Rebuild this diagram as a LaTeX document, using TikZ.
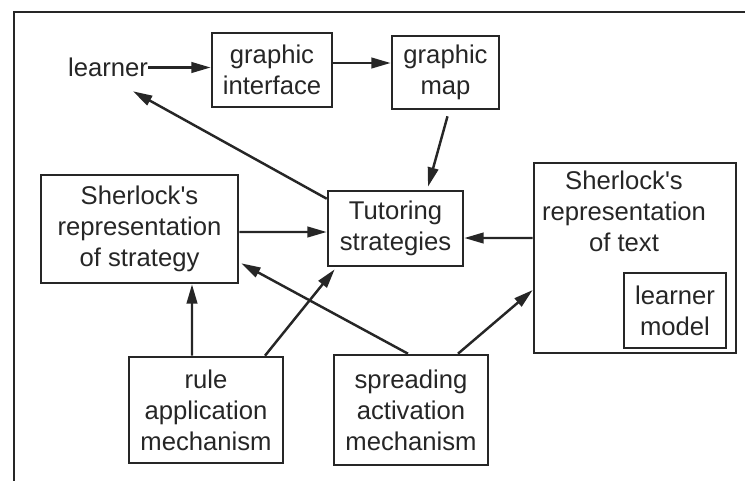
\documentclass[tikz,border=0pt]{standalone}
\usepackage{fontspec}
\setmainfont{Liberation Sans}
\usetikzlibrary{arrows.meta,calc}

\begin{document}
\begin{tikzpicture}[x=0.02cm,y=-0.02cm,
  every node/.style={font=\fontsize{14.6}{17.6}\selectfont, text=black!85},
  box/.style={draw=black!85, line width=1.5pt, align=center, inner sep=0pt},
  arr/.style={-{Triangle[length=11pt,width=6pt]}, line width=1.4pt, draw=black!85}]
  % page size (y grows downwards)
  \useasboundingbox (0,0) rectangle (745,481);
  % frame: top and left rule only
  \draw[line width=1.5pt, black!85] (745,12) -- (14,12) -- (14,481);

  % top row
  \node[inner sep=0pt] (learner) at (108,67.5) {learner};
  \node[box, minimum width=2.4cm, minimum height=1.48cm] (gi) at (272,70) {graphic\\interface};
  \node[box, minimum width=2.14cm, minimum height=1.46cm] (gm) at (445.5,72.5) {graphic\\map};

  % middle row
  \node[box, minimum width=3.94cm, minimum height=2.16cm] (strat) at (139.5,229)
    {Sherlock\textquotesingle s\\representation\\of strategy};
  \node[box, minimum width=2.7cm, minimum height=1.5cm] (tut) at (395.5,228.5)
    {Tutoring\\strategies};
  \node[box, minimum width=4.04cm, minimum height=3.8cm] (txt) at (635,258) {};
  \node[anchor=north, align=center, inner sep=0pt] (txtlabel) at (624,171)
    {Sherlock\textquotesingle s\\representation\\of text};
  \node[box, minimum width=2.04cm, minimum height=1.5cm] (lm) at (675,310.5) {learner\\model};

  % bottom row
  \node[box, minimum width=3.08cm, minimum height=2.12cm] (rule) at (206,410)
    {rule\\application\\mechanism};
  \node[box, minimum width=3.08cm, minimum height=2.2cm] (spread) at (411,410)
    {spreading\\activation\\mechanism};

  % connectors
  \draw[arr] (learner.east) -- (learner.east -| gi.west);
  \draw[arr] ($(gi.east)+(0,-7)$) -- ($(gm.west)+(0,-9.5)$);
  \draw[arr] ($(gm.south)+(2,6)$) -- ($(tut.north)+(32.5,-3)$);
  \draw[arr] ($(tut.north west)+(0,9)$) -- ($(learner.south)+(25,14)$);
  \draw[arr] ($(strat.east)+(0,3)$) -- ($(tut.west)+(0,3.5)$);
  \draw[arr] ($(txt.west)+(0,-20)$) -- ($(tut.east)+(0,9.5)$);
  \draw[arr] ($(rule.north)+(-14,0)$) -- ($(strat.south)+(52.5,0)$);
  \draw[arr] ($(rule.north)+(59,0)$) -- ($(tut.south west)+(8,2)$);
  \draw[arr] ($(spread.north)+(-3,0)$) -- ($(strat.south east)+(2,-21)$);
  \draw[arr] ($(spread.north)+(47,0)$) -- ($(txt.west)+(0,32)$);
\end{tikzpicture}
\end{document}
